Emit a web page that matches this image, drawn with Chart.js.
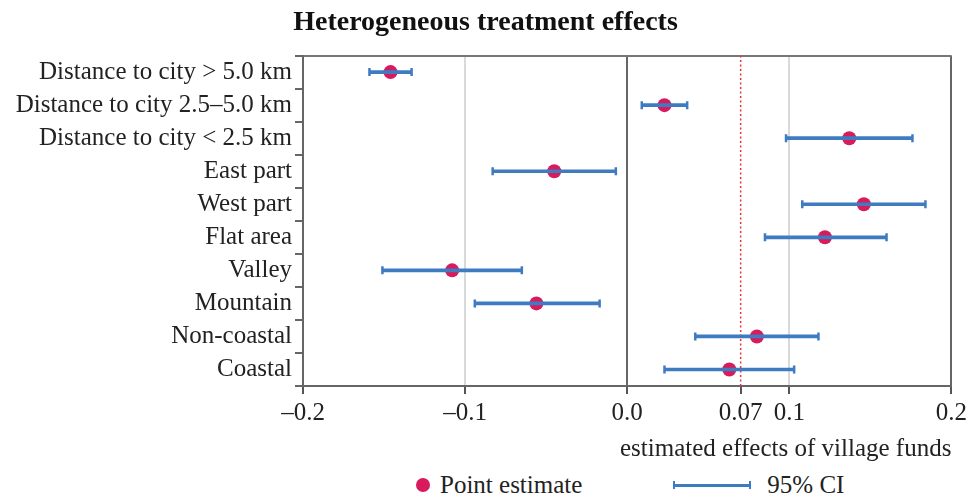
<!DOCTYPE html>
<html>
<head>
<meta charset="utf-8">
<script src="https://cdn.jsdelivr.net/npm/chart.js@4.4.1/dist/chart.umd.min.js"></script>
<style>
  body { margin: 0; background: #fff; }
  #wrap { position: relative; width: 971px; height: 497px; }
  #legend { position: absolute; left: 0; top: 471px; width: 971px; height: 28px;
            display: flex; align-items: center; padding-left: 416px; box-sizing: border-box;
            font-family: 'Liberation Serif', serif; font-size: 25px; color: #222; }
  .dot { width: 14px; height: 14px; border-radius: 50%; background: #d81b5c; margin-right: 10px; }
  .ci { position: relative; width: 78px; height: 8px; margin-left: 91px; margin-right: 16px; }
  .ci::before { content: ''; position: absolute; left: 0; right: 0; top: 3px; height: 3px; background: #3f7bc1; }
  .ci::after { content: ''; position: absolute; left: 0; right: 0; top: 0; height: 8px;
               border-left: 2px solid #3f7bc1; border-right: 2px solid #3f7bc1; box-sizing: border-box; }
</style>
</head>
<body>
<div id="wrap">
  <canvas id="chart" width="971" height="464"></canvas>
  <div id="legend">
    <span class="dot"></span><span>Point estimate</span>
    <span class="ci"></span><span>95% CI</span>
  </div>
</div>
<script>
//categories, top to bottom
const labels = ['Distance to city > 5.0 km', 'Distance to city 2.5–5.0 km', 'Distance to city < 2.5 km',
    'East part', 'West part', 'Flat area', 'Valley', 'Mountain', 'Non-coastal', 'Coastal'];

//point estimates and 95% confidence interval
const estimate = [-0.146, 0.023, 0.137, -0.045, 0.146, 0.122, -0.108, -0.056, 0.080, 0.063];
const ciLow = [-0.159, 0.009, 0.098, -0.083, 0.108, 0.085, -0.151, -0.094, 0.042, 0.023];
const ciHigh = [-0.133, 0.037, 0.176, -0.007, 0.184, 0.160, -0.065, -0.017, 0.118, 0.103];

//x axis ticks and the reference line
const xTickValues = [-0.2, -0.1, 0, 0.07, 0.1, 0.2];
const xTickLabels = ['–0.2', '–0.1', '0.0', '0.07', '0.1', '0.2'];
const refValue = 0.07;

const serif = "'Liberation Serif', 'Times New Roman', serif";
const blue = '#3f7bc1';
const red = '#d81b5c';

//dotted reference line, drawn under the marks
const refLine = {
    id: 'refLine',
    beforeDatasetsDraw(chart) {
        const x = chart.scales.x.getPixelForValue(refValue);
        const area = chart.chartArea;
        const ctx = chart.ctx;
        ctx.save();
        ctx.strokeStyle = '#e8323c';
        ctx.lineWidth = 1.5;
        ctx.setLineDash([2, 2.5]);
        ctx.beginPath();
        ctx.moveTo(x, area.top);
        ctx.lineTo(x, area.bottom);
        ctx.stroke();
        ctx.restore();
    }
};

//cap points at both ends of every interval
const caps = [];
labels.forEach((l, i) => {
    caps.push({x: ciLow[i], y: l});
    caps.push({x: ciHigh[i], y: l});
});

const ctx = document.getElementById('chart').getContext('2d');
const chart = new Chart(ctx, {
    data: {
        labels: labels,
        datasets: [{
            type: 'bar',
            label: '95% CI',
            data: ciLow.map((lo, i) => [lo, ciHigh[i]]),
            backgroundColor: blue,
            borderWidth: 0,
            barThickness: 3
        }, {
            type: 'line',
            label: 'caps',
            data: caps,
            showLine: false,
            pointStyle: 'line',
            rotation: 90,
            pointRadius: 4,
            borderColor: blue,
            borderWidth: 2.5
        }, {
            type: 'line',
            label: 'Point estimate',
            data: estimate.map((v, i) => ({x: v, y: labels[i]})),
            showLine: false,
            pointRadius: 7,
            pointBackgroundColor: red,
            pointBorderWidth: 0
        }]
    },
    options: {
        indexAxis: 'y',
        responsive: false,
        animation: false,
        layout: {padding: 0},
        plugins: {
            legend: {display: false},
            tooltip: {enabled: false},
            title: {
                display: true,
                text: 'Heterogeneous treatment effects',
                color: '#111',
                font: {family: serif, size: 28, weight: 'bold'},
                padding: {top: 6, bottom: 16}
            }
        },
        scales: {
            x: {
                type: 'linear',
                min: -0.2,
                max: 0.2,
                afterBuildTicks: scale => {
                    scale.ticks = xTickValues.map(v => ({value: v}));
                },
                ticks: {
                    autoSkip: false,
                    maxRotation: 0,
                    color: '#222',
                    font: {family: serif, size: 25},
                    padding: 4,
                    callback: (value) => xTickLabels[xTickValues.indexOf(value)]
                },
                grid: {
                    lineWidth: 2,
                    tickLength: 8,
                    tickColor: '#555',
                    color: c => {
                        const v = c.tick ? c.tick.value : null;
                        if (v === 0 || v === 0.2 || v === -0.2) return '#666';
                        if (v === 0.1 || v === -0.1) return '#d9d9d9';
                        return 'rgba(0,0,0,0)';
                    }
                },
                border: {color: '#666', width: 2},
                title: {
                    display: true,
                    text: 'estimated effects of village funds',
                    align: 'end',
                    color: '#222',
                    font: {family: serif, size: 25},
                    padding: {top: 2, bottom: 0}
                }
            },
            y: {
                type: 'category',
                offset: true,
                afterFit: scale => {
                    scale.width = 303;
                },
                ticks: {
                    autoSkip: false,
                    color: '#222',
                    font: {family: serif, size: 25},
                    padding: 3
                },
                grid: {
                    offset: true,
                    lineWidth: 2,
                    tickLength: 8,
                    tickColor: '#666',
                    color: c => c.index === 0 ? '#777' : 'rgba(0,0,0,0)'
                },
                border: {color: '#666', width: 2}
            }
        }
    },
    plugins: [refLine]
});
</script>
</body>
</html>
